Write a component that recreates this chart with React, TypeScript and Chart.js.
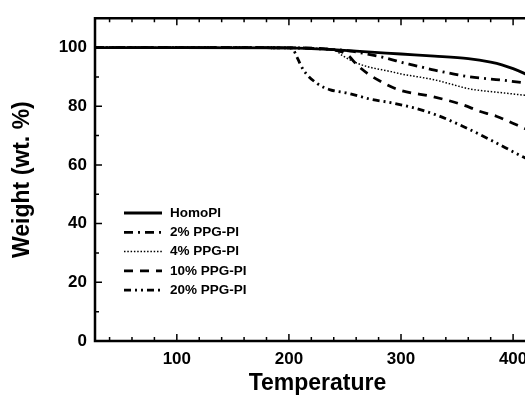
import { useEffect, useRef } from 'react';
import { Chart, registerables } from 'chart.js';

Chart.register(...registerables);

const FONT = "'Liberation Sans', Arial, Helvetica, sans-serif";

const seriesLabels = ['HomoPI', '2% PPG-PI', '4% PPG-PI', '10% PPG-PI', '20% PPG-PI'];

const homoT = [27, 100, 200, 240, 260, 280, 300, 330, 360, 380, 390, 400, 410, 420, 440];
const homoW = [100, 100, 99.9, 99.3, 98.8, 98.3, 97.8, 97.1, 96.2, 95.0, 94.1, 92.8, 91.2, 89.4, 86];

const p2T = [27, 100, 200, 240, 255, 267, 288, 303, 310, 330, 360, 390, 414, 440];
const p2W = [100, 100, 99.9, 99.3, 98.8, 98.0, 96.3, 94.7, 94.1, 92.3, 90.1, 88.9, 87.8, 86.5];

const p4T = [27, 100, 200, 240, 248, 260, 270, 291, 300, 330, 345, 360, 390, 414, 440];
const p4W = [100, 100, 99.9, 99.2, 97.2, 94.8, 93.5, 91.8, 91.0, 89.0, 87.5, 86.0, 84.6, 83.6, 82.5];

const p10T = [27, 100, 200, 240, 252, 261, 270, 282, 298, 328, 355, 370, 385, 404, 414, 440];
const p10W = [100, 100, 99.9, 99.2, 97.6, 94.0, 91.2, 88.4, 85.6, 83.3, 80.5, 78.3, 76.6, 73.5, 71.8, 67];

const p20T = [27, 100, 200, 204, 207, 213, 225, 237, 252, 273, 291, 310, 331, 355, 379, 407, 414, 440];
const p20W = [100, 100, 99.9, 99.2, 96.9, 92.3, 87.8, 85.6, 84.5, 82.4, 81.2, 79.6, 77.1, 73.2, 68.7, 63.1, 61.8, 57];

const xMin = 27;
const xMax = 424;
const yMin = 0;
const yMax = 110;

const seriesT = [homoT, p2T, p4T, p10T, p20T];
const seriesW = [homoW, p2W, p4W, p10W, p20W];
const seriesDash: number[][] = [[], [9, 5, 2, 5], [1.5, 1.8], [9, 7], [7, 4, 2, 4, 2, 4]];
const seriesWidth = [2.8, 2.8, 1.5, 2.8, 2.8];

const framePlugin = {
  id: 'frameTicks',
  afterDraw(chart: any) {
    const { ctx, chartArea } = chart;
    const { left, right, top, bottom } = chartArea;
    const x = chart.scales.x;
    const y = chart.scales.y;
    ctx.save();
    ctx.strokeStyle = '#000';
    ctx.lineCap = 'butt';
    ctx.lineWidth = 2.5;
    ctx.beginPath();
    ctx.moveTo(left - 1.25, top);
    ctx.lineTo(right + 1.25, top);
    ctx.moveTo(left, top - 1.25);
    ctx.lineTo(left, bottom + 1.25);
    ctx.moveTo(left - 1.25, bottom);
    ctx.lineTo(right + 1.25, bottom);
    ctx.moveTo(right, top - 1.25);
    ctx.lineTo(right, bottom + 1.25);
    ctx.stroke();
    ctx.lineWidth = 1.5;
    ctx.beginPath();
    for (let v = Math.ceil(xMin / 20) * 20; v <= xMax; v += 20) {
      const px = x.getPixelForValue(v);
      const len = v % 100 === 0 ? 7 : 4;
      ctx.moveTo(px, bottom);
      ctx.lineTo(px, bottom - len);
      ctx.moveTo(px, top);
      ctx.lineTo(px, top + len);
    }
    for (let v = yMin + 10; v < yMax; v += 10) {
      const py = y.getPixelForValue(v);
      const len = v % 20 === 0 ? 7 : 4;
      ctx.moveTo(left, py);
      ctx.lineTo(left + len, py);
      ctx.moveTo(right, py);
      ctx.lineTo(right - len, py);
    }
    ctx.stroke();
    ctx.restore();
  },
};

const legendPlugin = {
  id: 'innerLegend',
  afterDraw(chart: any) {
    const { ctx } = chart;
    const x0 = 124;
    const x1 = 162;
    const tx = 170;
    const y0 = 213;
    const dy = 19.3;
    ctx.save();
    chart.data.datasets.forEach((ds: any, i: number) => {
      const yy = y0 + i * dy;
      ctx.strokeStyle = '#000';
      ctx.lineWidth = ds.borderWidth;
      ctx.setLineDash(ds.borderDash || []);
      ctx.beginPath();
      ctx.moveTo(x0, yy);
      ctx.lineTo(x1, yy);
      ctx.stroke();
      ctx.setLineDash([]);
      ctx.fillStyle = '#000';
      ctx.font = `bold 13.5px ${FONT}`;
      ctx.textBaseline = 'middle';
      ctx.textAlign = 'left';
      ctx.fillText(ds.label, tx, yy);
    });
    ctx.restore();
  },
};

export default function App() {
  const ref = useRef<HTMLCanvasElement>(null);

  useEffect(() => {
    document.documentElement.style.overflow = 'hidden';
    document.body.style.margin = '0';
    document.body.style.overflow = 'hidden';
    document.body.style.background = '#fff';

    const datasets = seriesLabels.map((label, i) => ({
      label,
      data: seriesT[i].map((t, j) => ({ x: t, y: seriesW[i][j] })),
      borderColor: '#000',
      backgroundColor: '#000',
      borderWidth: seriesWidth[i],
      borderDash: seriesDash[i],
      pointRadius: 0,
      cubicInterpolationMode: 'monotone' as const,
      fill: false,
    }));

    const chart = new Chart(ref.current!, {
      type: 'line',
      data: { datasets },
      options: {
        animation: false,
        responsive: false,
        devicePixelRatio: 1,
        layout: { padding: { top: 16, left: 0, right: 0, bottom: 0 } },
        plugins: {
          legend: { display: false },
          tooltip: { enabled: false },
        },
        scales: {
          x: {
            type: 'linear',
            min: xMin,
            max: xMax,
            grid: { display: false, drawTicks: false },
            border: { display: false },
            ticks: {
              stepSize: 20,
              autoSkip: false,
              maxRotation: 0,
              padding: 8,
              color: '#000',
              font: { family: FONT, size: 17, weight: 'bold' },
              callback: (v: any) => (Number(v) % 100 === 0 ? String(v) : ''),
            },
            title: {
              display: true,
              text: 'Temperature',
              color: '#000',
              font: { family: FONT, size: 23, weight: 'bold' },
              padding: { top: 0, bottom: 8 },
            },
            afterFit: (s: any) => {
              s.height = 64;
              s.paddingLeft = 0;
              s.paddingRight = 0;
            },
          },
          y: {
            type: 'linear',
            min: yMin,
            max: yMax,
            grid: { display: false, drawTicks: false },
            border: { display: false },
            ticks: {
              stepSize: 10,
              autoSkip: false,
              padding: 8,
              color: '#000',
              font: { family: FONT, size: 17, weight: 'bold' },
              callback: (v: any) => (Number(v) % 20 === 0 && Number(v) <= 100 ? String(v) : ''),
            },
            title: {
              display: true,
              text: 'Weight (wt. %)',
              color: '#000',
              font: { family: FONT, size: 23, weight: 'bold' },
              padding: { top: 9, bottom: 0 },
            },
            afterFit: (s: any) => {
              s.width = 95;
            },
          },
        },
      },
      plugins: [framePlugin, legendPlugin],
    });
    return () => chart.destroy();
  }, []);

  return (
    <div style={{ width: 525, height: 405, overflow: 'hidden', background: '#fff' }}>
      <canvas ref={ref} width={540} height={405} style={{ display: 'block' }} />
    </div>
  );
}
